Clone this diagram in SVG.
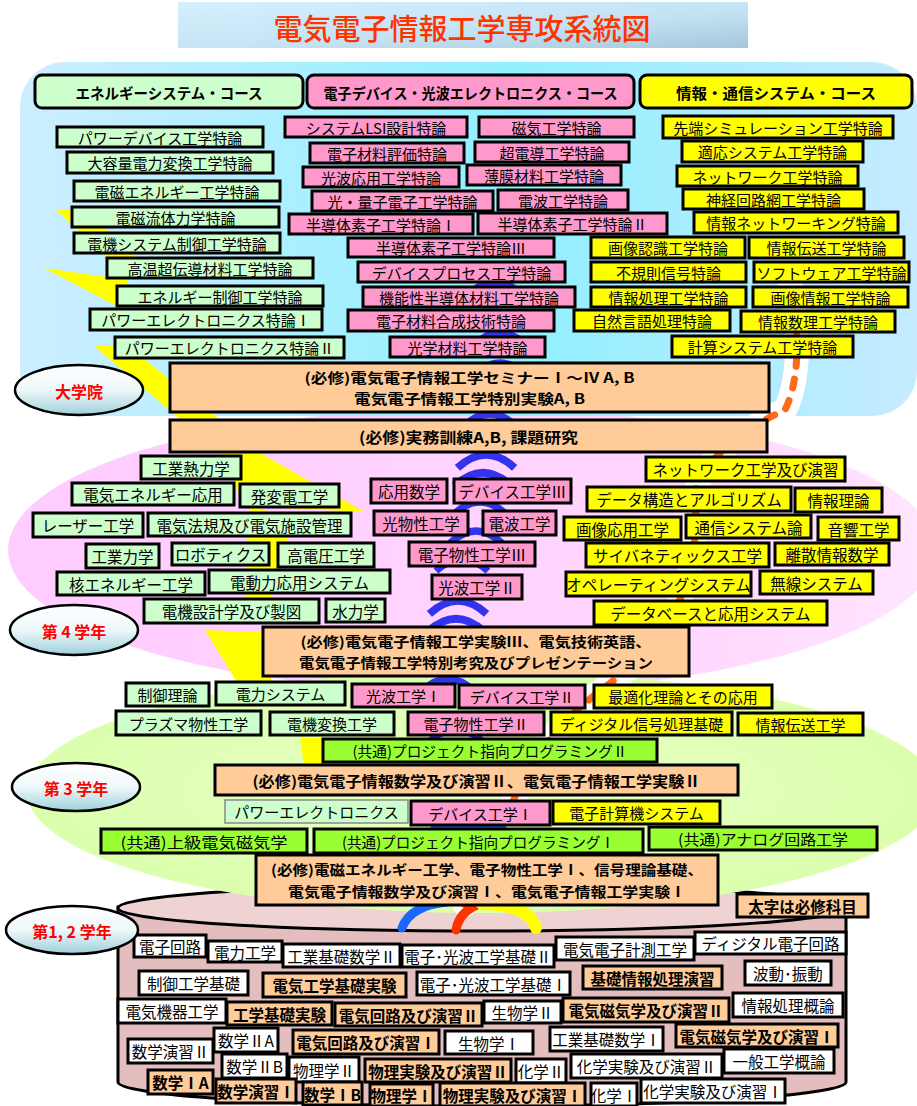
<svg xmlns="http://www.w3.org/2000/svg" width="917" height="1106" viewBox="0 0 917 1106">
<defs>
  <linearGradient id="titleBg" x1="0" y1="0" x2="1" y2="1">
    <stop offset="0" stop-color="#d6f0fd"/><stop offset="0.6" stop-color="#c2e2f4"/><stop offset="1" stop-color="#a6c6da"/>
  </linearGradient>
  <linearGradient id="gradBg" x1="0" y1="0" x2="1" y2="0">
    <stop offset="0" stop-color="#cdeeff"/><stop offset="0.55" stop-color="#90f0ff"/><stop offset="1" stop-color="#c6ebff"/>
  </linearGradient>
  <linearGradient id="y4Bg" x1="0" y1="0" x2="1" y2="0">
    <stop offset="0" stop-color="#ffccff"/><stop offset="0.7" stop-color="#ffd6ff"/><stop offset="1" stop-color="#ffe6ff"/>
  </linearGradient>
  <radialGradient id="y3Bg" cx="0.5" cy="0.5" r="0.6">
    <stop offset="0" stop-color="#eaffc8"/><stop offset="1" stop-color="#d8ffa8"/>
  </radialGradient>
  <linearGradient id="badge" x1="0" y1="0" x2="0" y2="1">
    <stop offset="0" stop-color="#ffffff"/><stop offset="0.5" stop-color="#eef8fa"/><stop offset="1" stop-color="#9ed0da"/>
  </linearGradient>
  <path id="wave" d="M-26,9 Q0,-15 26,9"/>
</defs>
<style>
  .bx{stroke:#000;stroke-width:3}
  .g{fill:#ccffcc}.p{fill:#ff99cc}.y{fill:#ffff00}.o{fill:#ffcc99}.l{fill:#99ff33}.w{fill:#ffffff}
  text{font-family:"Noto Sans CJK JP","Noto Sans",sans-serif;text-anchor:middle;dominant-baseline:central;fill:#000}
  .s15{font-size:15px}.s16{font-size:15.5px}
  .b{font-weight:700}
  .req{font-weight:700;font-size:14px}
  .badge ellipse{fill:url(#badge);stroke:#000;stroke-width:2.5}
  .badge text{fill:#ff0000;font-weight:700;font-size:16px}
  .wv{fill:none;stroke:#3333ee;stroke-width:7}
</style>

<!-- page title -->
<g id="title">
  <rect x="178" y="2" width="570" height="46" fill="url(#titleBg)"/>
  <text x="462" y="27" style="font-size:29px;font-weight:500;fill:#ff3300">電気電子情報工学専攻系統図</text>
</g>

<!-- stage backgrounds -->
<g id="backgrounds">
  <ellipse cx="472" cy="550" rx="464" ry="142" fill="url(#y4Bg)"/>
  <rect x="20" y="62" width="897" height="354" rx="45" fill="url(#gradBg)"/>
  <g id="cylinder">
    <path d="M118,907 L118,1082 A364,24 0 0 0 846,1082 L846,907 Z" fill="#e4bebe" stroke="#000" stroke-width="3"/>
    <ellipse cx="482" cy="908" rx="364" ry="23" fill="#efd3d3" stroke="#000" stroke-width="3"/>
  </g>
  <ellipse cx="482" cy="792" rx="455" ry="121" fill="url(#y3Bg)"/>
</g>

<!-- decorative ribbons rising from the cylinder -->
<g id="decor">
  <g id="bolt" fill="#ffff00">
    <polygon points="56,210 84,210 138,258 112,262"/>
    <polygon points="44,268 128,280 128,312"/>
    <polygon points="94,346 128,346 265,456 365,512 242,506 228,460"/>
    <polygon points="250,505 292,520 270,600 245,600"/>
    <polygon points="205,630 262,632 272,682 238,684"/>
    <polygon points="300,738 332,738 326,766 304,766"/>
  </g>
  <g id="waves">
    <use href="#wave" class="wv" transform="translate(495,285)"/>
    <use href="#wave" class="wv" transform="translate(500,336)"/>
    <use href="#wave" class="wv" transform="translate(500,366)"/>
    <use href="#wave" class="wv" transform="translate(490,417)"/>
    <use href="#wave" class="wv" transform="translate(486,458) scale(1.1)"/>
    <use href="#wave" class="wv" transform="translate(483,476) scale(1.1)"/>
    <use href="#wave" class="wv" transform="translate(480,505)"/>
    <use href="#wave" class="wv" transform="translate(476,534)"/>
    <use href="#wave" class="wv" transform="translate(462,562)"/>
    <use href="#wave" class="wv" transform="translate(458,604) scale(1.1)"/>
    <use href="#wave" class="wv" transform="translate(456,622) scale(1.1)"/>
    <use href="#wave" class="wv" transform="translate(448,682)"/>
    <use href="#wave" class="wv" transform="translate(456,732)"/>
  </g>
  <g id="binary-stream" fill="none" stroke-linecap="round">
    <path d="M465,905 C490,850 520,780 545,745 C575,705 610,685 640,660 C680,620 700,560 695,500 C692,470 740,430 785,410 C800,380 800,330 790,285" stroke="#ffffff" stroke-width="24"/>
    <path d="M465,905 C490,850 520,780 545,745 C575,705 610,685 640,660 C680,620 700,560 695,500 C692,470 740,430 785,410 C800,380 800,330 790,285" stroke="#ff6a1a" stroke-width="7" stroke-dasharray="9 13"/>
  </g>
  <g id="cylinder-ribbons" fill="none" stroke-linecap="round">
    <path d="M402,928 Q410,906 446,902" stroke="#1a66ff" stroke-width="9"/>
    <path d="M456,930 Q460,906 492,901" stroke="#ff3300" stroke-width="9"/>
    <path d="M482,904 Q530,905 536,928" stroke="#ffff00" stroke-width="12"/>
    <path d="M432,827 L505,827" stroke="#1a66ff" stroke-width="3"/>
    <path d="M432,825 L470,825" stroke="#ff3300" stroke-width="2"/>
  </g>
</g>

<!-- course headers -->
<g id="hdr-energy"><rect class="bx g" x="35" y="75" width="268" height="33" rx="7"/><text class="b" x="169" y="92" style="font-size:15px" textLength="187" lengthAdjust="spacingAndGlyphs">エネルギーシステム・コース</text></g>
<g id="hdr-device"><rect class="bx p" x="307" y="75" width="327" height="33" rx="7"/><text class="b" x="470.5" y="92" style="font-size:15px" textLength="294" lengthAdjust="spacingAndGlyphs">電子デバイス・光波エレクトロニクス・コース</text></g>
<g id="hdr-info"><rect class="bx y" x="640" y="75" width="272" height="33" rx="7"/><text class="b" x="776" y="92" style="font-size:15px" textLength="200" lengthAdjust="spacingAndGlyphs">情報・通信システム・コース</text></g>

<!-- graduate: energy systems -->
<g id="gE1"><rect class="bx g" x="57" y="127" width="206" height="20"/><text class="s15" x="160" y="137">パワーデバイス工学特論</text></g>
<g id="gE2"><rect class="bx g" x="67" y="152" width="206" height="21"/><text class="s15" x="170" y="162.5">大容量電力変換工学特論</text></g>
<g id="gE3"><rect class="bx g" x="74" y="181" width="206" height="20"/><text class="s15" x="177" y="191">電磁エネルギー工学特論</text></g>
<g id="gE4"><rect class="bx g" x="72" y="207" width="207" height="20"/><text class="s15" x="175.5" y="217">電磁流体力学特論</text></g>
<g id="gE5"><rect class="bx g" x="74" y="233" width="206" height="20"/><text class="s15" x="177" y="243">電機システム制御工学特論</text></g>
<g id="gE6"><rect class="bx g" x="107" y="258" width="206" height="20"/><text class="s15" x="210" y="268">高温超伝導材料工学特論</text></g>
<g id="gE7"><rect class="bx g" x="117" y="286" width="206" height="20"/><text class="s15" x="220" y="296">エネルギー制御工学特論</text></g>
<g id="gE8"><rect class="bx g" x="90" y="309" width="232" height="21"/><text class="s15" x="206" y="319.5">パワーエレクトロニクス特論Ⅰ</text></g>
<g id="gE9"><rect class="bx g" x="115" y="337" width="229" height="21"/><text class="s15" x="229.5" y="347.5">パワーエレクトロニクス特論Ⅱ</text></g>

<!-- graduate: devices / photonics -->
<g id="gD1"><rect class="bx p" x="285" y="117" width="182" height="20"/><text class="s15" x="376" y="127">システムLSI設計特論</text></g>
<g id="gD2"><rect class="bx p" x="479" y="117" width="155" height="20"/><text class="s15" x="556.5" y="127">磁気工学特論</text></g>
<g id="gD3"><rect class="bx p" x="310" y="143" width="154" height="20"/><text class="s15" x="387" y="153">電子材料評価特論</text></g>
<g id="gD4"><rect class="bx p" x="475" y="142" width="154" height="20"/><text class="s15" x="552" y="152">超電導工学特論</text></g>
<g id="gD5"><rect class="bx p" x="303" y="167" width="156" height="20"/><text class="s15" x="381" y="177">光波応用工学特論</text></g>
<g id="gD6"><rect class="bx p" x="467" y="165" width="154" height="20"/><text class="s15" x="544" y="175">薄膜材料工学特論</text></g>
<g id="gD7"><rect class="bx p" x="312" y="191" width="181" height="20"/><text class="s15" x="402.5" y="201">光・量子電子工学特論</text></g>
<g id="gD8"><rect class="bx p" x="498" y="190" width="130" height="20"/><text class="s15" x="563" y="200">電波工学特論</text></g>
<g id="gD9"><rect class="bx p" x="289" y="214" width="184" height="20"/><text class="s15" x="381" y="224">半導体素子工学特論Ⅰ</text></g>
<g id="gD10"><rect class="bx p" x="478" y="213" width="189" height="21"/><text class="s15" x="572.5" y="223.5">半導体素子工学特論Ⅱ</text></g>
<g id="gD11"><rect class="bx p" x="348" y="238" width="206" height="19"/><text class="s15" x="451" y="247.5">半導体素子工学特論Ⅲ</text></g>
<g id="gD12"><rect class="bx p" x="358" y="262" width="207" height="20"/><text class="s15" x="461.5" y="272">デバイスプロセス工学特論</text></g>
<g id="gD13"><rect class="bx p" x="363" y="287" width="212" height="20"/><text class="s15" x="469" y="297">機能性半導体材料工学特論</text></g>
<g id="gD14"><rect class="bx p" x="348" y="310" width="206" height="21"/><text class="s15" x="451" y="320.5">電子材料合成技術特論</text></g>
<g id="gD15"><rect class="bx p" x="390" y="337" width="155" height="20"/><text class="s15" x="467.5" y="347">光学材料工学特論</text></g>

<!-- graduate: information / communication -->
<g id="gI1"><rect class="bx y" x="663" y="116" width="230" height="22"/><text class="s15" x="778" y="127">先端シミュレーション工学特論</text></g>
<g id="gI2"><rect class="bx y" x="682" y="141" width="181" height="21"/><text class="s15" x="772.5" y="151.5">適応システム工学特論</text></g>
<g id="gI3"><rect class="bx y" x="677" y="166" width="181" height="20"/><text class="s15" x="767.5" y="176">ネットワーク工学特論</text></g>
<g id="gI4"><rect class="bx y" x="683" y="189" width="181" height="20"/><text class="s15" x="773.5" y="199">神経回路網工学特論</text></g>
<g id="gI5"><rect class="bx y" x="694" y="212" width="204" height="21"/><text class="s15" x="796" y="222.5">情報ネットワーキング特論</text></g>
<g id="gI6"><rect class="bx y" x="591" y="237" width="154" height="21"/><text class="s15" x="668" y="247.5">画像認識工学特論</text></g>
<g id="gI7"><rect class="bx y" x="749" y="237" width="155" height="21"/><text class="s15" x="826.5" y="247.5">情報伝送工学特論</text></g>
<g id="gI8"><rect class="bx y" x="591" y="262" width="155" height="20"/><text class="s15" x="668.5" y="272">不規則信号特論</text></g>
<g id="gI9"><rect class="bx y" x="754" y="262" width="155" height="20"/><text class="s15" x="831.5" y="272">ソフトウェア工学特論</text></g>
<g id="gI10"><rect class="bx y" x="591" y="287" width="155" height="20"/><text class="s15" x="668.5" y="297">情報処理工学特論</text></g>
<g id="gI11"><rect class="bx y" x="753" y="287" width="155" height="20"/><text class="s15" x="830.5" y="297">画像情報工学特論</text></g>
<g id="gI12"><rect class="bx y" x="574" y="310" width="156" height="21"/><text class="s15" x="652" y="320.5">自然言語処理特論</text></g>
<g id="gI13"><rect class="bx y" x="741" y="311" width="154" height="21"/><text class="s15" x="818" y="321.5">情報数理工学特論</text></g>
<g id="gI14"><rect class="bx y" x="672" y="336" width="181" height="21"/><text class="s15" x="762.5" y="346.5">計算システム工学特論</text></g>

<!-- graduate: required -->
<g id="req-grad1"><rect class="bx o" x="170" y="363" width="599" height="49"/>
  <text class="req" x="469.5" y="377" textLength="330" lengthAdjust="spacingAndGlyphs">(必修)電気電子情報工学セミナーⅠ～Ⅳ A, B</text>
  <text class="req" x="469.5" y="398" textLength="231" lengthAdjust="spacingAndGlyphs">電気電子情報工学特別実験A, B</text></g>
<g id="req-grad2"><rect class="bx o" x="170" y="420" width="597" height="32"/>
  <text class="b" x="468.5" y="436.5" style="font-size:15px" textLength="219" lengthAdjust="spacingAndGlyphs">(必修)実務訓練A,B, 課題研究</text></g>

<!-- 4th year -->
<g id="y4E1"><rect class="bx g" x="141" y="456" width="100" height="23"/><text class="s16" x="191" y="467.5">工業熱力学</text></g>
<g id="y4E2"><rect class="bx g" x="72" y="483" width="162" height="22"/><text class="s16" x="153" y="494">電気エネルギー応用</text></g>
<g id="y4E3"><rect class="bx g" x="240" y="484" width="99" height="23"/><text class="s16" x="289.5" y="495.5">発変電工学</text></g>
<g id="y4E4"><rect class="bx g" x="33" y="513" width="110" height="24"/><text class="s16" x="88" y="525">レーザー工学</text></g>
<g id="y4E5"><rect class="bx g" x="148" y="513" width="203" height="23"/><text class="s16" x="249.5" y="524.5">電気法規及び電気施設管理</text></g>
<g id="y4E6"><rect class="bx g" x="86" y="544" width="73" height="24"/><text class="s16" x="122.5" y="556">工業力学</text></g>
<g id="y4E7"><rect class="bx g" x="172" y="543" width="97" height="22"/><text class="s16" x="220.5" y="554">ロボティクス</text></g>
<g id="y4E8"><rect class="bx g" x="278" y="543" width="96" height="24"/><text class="s16" x="326" y="555">高電圧工学</text></g>
<g id="y4E9"><rect class="bx g" x="57" y="572" width="148" height="23"/><text class="s16" x="131" y="583.5">核エネルギー工学</text></g>
<g id="y4E10"><rect class="bx g" x="209" y="570" width="181" height="23"/><text class="s16" x="299.5" y="581.5">電動力応用システム</text></g>
<g id="y4E11"><rect class="bx g" x="144" y="599" width="175" height="24"/><text class="s16" x="231.5" y="611">電機設計学及び製図</text></g>
<g id="y4E12"><rect class="bx g" x="326" y="599" width="59" height="23"/><text class="s16" x="355.5" y="610.5">水力学</text></g>

<g id="y4D1"><rect class="bx p" x="371" y="479" width="76" height="24"/><text class="s16" x="409" y="491">応用数学</text></g>
<g id="y4D2"><rect class="bx p" x="454" y="479" width="117" height="24"/><text class="s16" x="512.5" y="491">デバイス工学Ⅲ</text></g>
<g id="y4D3"><rect class="bx p" x="374" y="511" width="94" height="24"/><text class="s16" x="421" y="523">光物性工学</text></g>
<g id="y4D4"><rect class="bx p" x="483" y="511" width="73" height="24"/><text class="s16" x="519.5" y="523">電波工学</text></g>
<g id="y4D5"><rect class="bx p" x="409" y="542" width="126" height="24"/><text class="s16" x="472" y="554">電子物性工学Ⅲ</text></g>
<g id="y4D6"><rect class="bx p" x="432" y="575" width="90" height="24"/><text class="s16" x="477" y="587">光波工学Ⅱ</text></g>

<g id="y4I1"><rect class="bx y" x="646" y="457" width="199" height="24"/><text class="s16" x="745.5" y="469">ネットワーク工学及び演習</text></g>
<g id="y4I2"><rect class="bx y" x="587" y="487" width="204" height="24"/><text class="s16" x="689" y="499">データ構造とアルゴリズム</text></g>
<g id="y4I3"><rect class="bx y" x="795" y="488" width="87" height="24"/><text class="s16" x="838.5" y="500">情報理論</text></g>
<g id="y4I4"><rect class="bx y" x="564" y="517" width="117" height="23"/><text class="s16" x="622.5" y="528.5">画像応用工学</text></g>
<g id="y4I5"><rect class="bx y" x="686" y="515" width="125" height="23"/><text class="s16" x="748.5" y="526.5">通信システム論</text></g>
<g id="y4I6"><rect class="bx y" x="818" y="517" width="81" height="23"/><text class="s16" x="858.5" y="528.5">音響工学</text></g>
<g id="y4I7"><rect class="bx y" x="586" y="543" width="183" height="24"/><text class="s16" x="677.5" y="555">サイバネティックス工学</text></g>
<g id="y4I8"><rect class="bx y" x="775" y="543" width="114" height="22"/><text class="s16" x="832" y="554">離散情報数学</text></g>
<g id="y4I9"><rect class="bx y" x="566" y="572" width="185" height="24"/><text class="s16" x="658.5" y="584">オペレーティングシステム</text></g>
<g id="y4I10"><rect class="bx y" x="760" y="571" width="113" height="23"/><text class="s16" x="816.5" y="582.5">無線システム</text></g>
<g id="y4I11"><rect class="bx y" x="594" y="601" width="233" height="24"/><text class="s16" x="710.5" y="613">データベースと応用システム</text></g>

<g id="req-y4"><rect class="bx o" x="263" y="627" width="426" height="49"/>
  <text class="req" x="476" y="641" textLength="351" lengthAdjust="spacingAndGlyphs">(必修)電気電子情報工学実験Ⅲ、電気技術英語、</text>
  <text class="req" x="476" y="662" textLength="354" lengthAdjust="spacingAndGlyphs">電気電子情報工学特別考究及びプレゼンテーション</text></g>

<!-- 3rd year -->
<g id="y3a1"><rect class="bx g" x="126" y="683" width="83" height="23"/><text class="s15" x="167.5" y="694.5">制御理論</text></g>
<g id="y3a2"><rect class="bx g" x="216" y="682" width="129" height="23"/><text class="s15" x="280.5" y="693.5">電力システム</text></g>
<g id="y3a3"><rect class="bx p" x="352" y="684" width="103" height="23"/><text class="s15" x="403.5" y="695.5">光波工学Ⅰ</text></g>
<g id="y3a4"><rect class="bx p" x="459" y="685" width="126" height="23"/><text class="s15" x="522" y="696.5">デバイス工学Ⅱ</text></g>
<g id="y3a5"><rect class="bx y" x="594" y="685" width="178" height="23"/><text class="s15" x="683" y="696.5">最適化理論とその応用</text></g>
<g id="y3b1"><rect class="bx g" x="116" y="711" width="145" height="24"/><text class="s15" x="188.5" y="723">プラズマ物性工学</text></g>
<g id="y3b2"><rect class="bx g" x="270" y="712" width="124" height="23"/><text class="s15" x="332" y="723.5">電機変換工学</text></g>
<g id="y3b3"><rect class="bx p" x="408" y="712" width="136" height="23"/><text class="s15" x="476" y="723.5">電子物性工学Ⅱ</text></g>
<g id="y3b4"><rect class="bx y" x="551" y="712" width="181" height="23"/><text class="s15" x="641.5" y="723.5">ディジタル信号処理基礎</text></g>
<g id="y3b5"><rect class="bx y" x="738" y="713" width="125" height="22"/><text class="s15" x="800.5" y="724">情報伝送工学</text></g>
<g id="y3c1"><rect class="bx l" x="323" y="739" width="334" height="23"/><text x="490" y="750.5" style="font-size:15px" textLength="275" lengthAdjust="spacingAndGlyphs">(共通)プロジェクト指向プログラミングⅡ</text></g>
<g id="req-y3"><rect class="bx o" x="215" y="765" width="523" height="30"/>
  <text class="b" x="476.5" y="780" style="font-size:15px" textLength="448" lengthAdjust="spacingAndGlyphs">(必修)電気電子情報数学及び演習Ⅱ、電気電子情報工学実験Ⅱ</text></g>
<g id="y3d1"><rect class="g" x="225" y="800" width="183" height="23" stroke="#8a8a8a" stroke-width="1.5"/><text class="s15" x="316.5" y="811.5">パワーエレクトロニクス</text></g>
<g id="y3d2"><rect class="bx p" x="411" y="801" width="139" height="24"/><text class="s15" x="480.5" y="813">デバイス工学Ⅰ</text></g>
<g id="y3d3"><rect class="bx y" x="553" y="801" width="167" height="23"/><text class="s15" x="636.5" y="812.5">電子計算機システム</text></g>
<g id="y3e1"><rect class="bx l" x="101" y="829" width="206" height="24"/><text x="204" y="841" style="font-size:15px" textLength="167" lengthAdjust="spacingAndGlyphs">(共通)上級電気磁気学</text></g>
<g id="y3e2"><rect class="bx l" x="314" y="829" width="329" height="24"/><text x="478.5" y="841" style="font-size:15px" textLength="273" lengthAdjust="spacingAndGlyphs">(共通)プロジェクト指向プログラミングⅠ</text></g>
<g id="y3e3"><rect class="bx l" x="649" y="827" width="228" height="23"/><text x="763" y="838.5" style="font-size:15px" textLength="170" lengthAdjust="spacingAndGlyphs">(共通)アナログ回路工学</text></g>
<g id="req-y12"><rect class="bx o" x="256" y="855" width="462" height="50"/>
  <text class="req" x="487" y="869" textLength="432" lengthAdjust="spacingAndGlyphs">(必修)電磁エネルギー工学、電子物性工学Ⅰ、信号理論基礎、</text>
  <text class="req" x="487" y="891" textLength="398" lengthAdjust="spacingAndGlyphs">電気電子情報数学及び演習Ⅰ、電気電子情報工学実験Ⅰ</text></g>

<!-- 1st and 2nd year -->
<g id="legend"><rect class="bx o" x="737" y="894" width="131" height="23"/><text class="s16 b" x="802.5" y="905.5">太字は必修科目</text></g>
<g id="y1a1"><rect class="bx w" x="134" y="935" width="72" height="22"/><text class="s16" x="170" y="946">電子回路</text></g>
<g id="y1a2"><rect class="bx w" x="208" y="941" width="74" height="21"/><text class="s16" x="245" y="951.5">電力工学</text></g>
<g id="y1a3"><rect class="bx w" x="283" y="944" width="117" height="23"/><text class="s16" x="341.5" y="955.5">工業基礎数学Ⅱ</text></g>
<g id="y1a4"><rect class="bx w" x="402" y="945" width="152" height="22"/><text class="s16" x="478" y="956">電子･光波工学基礎Ⅱ</text></g>
<g id="y1a5"><rect class="bx w" x="556" y="937" width="138" height="23"/><text class="s16" x="625" y="948.5">電気電子計測工学</text></g>
<g id="y1a6"><rect class="bx w" x="695" y="932" width="151" height="22"/><text class="s16" x="770.5" y="943">ディジタル電子回路</text></g>
<g id="y1b1"><rect class="bx w" x="139" y="971" width="109" height="24"/><text class="s16" x="193.5" y="983">制御工学基礎</text></g>
<g id="y1b2"><rect class="bx o" x="263" y="973" width="143" height="24"/><text class="s16 b" x="334.5" y="985">電気工学基礎実験</text></g>
<g id="y1b3"><rect class="bx w" x="417" y="972" width="153" height="23"/><text class="s16" x="493.5" y="983.5">電子･光波工学基礎Ⅰ</text></g>
<g id="y1b4"><rect class="bx o" x="583" y="966" width="139" height="23"/><text class="s16 b" x="652.5" y="977.5">基礎情報処理演習</text></g>
<g id="y1b5"><rect class="bx w" x="745" y="961" width="86" height="24"/><text class="s16" x="788" y="973">波動･振動</text></g>
<g id="y1c1"><rect class="bx w" x="118" y="999" width="108" height="24"/><text class="s16" x="172" y="1011">電気機器工学</text></g>
<g id="y1c2"><rect class="bx o" x="227" y="1002" width="105" height="23"/><text class="s16 b" x="279.5" y="1013.5">工学基礎実験</text></g>
<g id="y1c3"><rect class="bx o" x="335" y="1003" width="147" height="23"/><text class="s16 b" x="408.5" y="1014.5">電気回路及び演習Ⅱ</text></g>
<g id="y1c4"><rect class="bx w" x="484" y="1001" width="77" height="22"/><text class="s16" x="522.5" y="1012">生物学Ⅱ</text></g>
<g id="y1c5"><rect class="bx o" x="563" y="998" width="166" height="24"/><text class="s16 b" x="646" y="1010">電気磁気学及び演習Ⅱ</text></g>
<g id="y1c6"><rect class="bx w" x="733" y="993" width="110" height="24"/><text class="s16" x="788" y="1005">情報処理概論</text></g>
<g id="y1d1"><rect class="bx w" x="214" y="1028" width="64" height="24"/><text class="s16" x="246" y="1040">数学ⅡA</text></g>
<g id="y1d2"><rect class="bx w" x="128" y="1039" width="85" height="24"/><text class="s16" x="170.5" y="1051">数学演習Ⅱ</text></g>
<g id="y1d3"><rect class="bx o" x="293" y="1030" width="146" height="24"/><text class="s16 b" x="366" y="1042">電気回路及び演習Ⅰ</text></g>
<g id="y1d4"><rect class="bx w" x="445" y="1031" width="88" height="23"/><text class="s16" x="489" y="1042.5">生物学Ⅰ</text></g>
<g id="y1d5"><rect class="bx w" x="550" y="1027" width="113" height="24"/><text class="s16" x="606.5" y="1039">工業基礎数学Ⅰ</text></g>
<g id="y1d6"><rect class="bx o" x="676" y="1024" width="162" height="23"/><text class="s16 b" x="757" y="1035.5">電気磁気学及び演習Ⅰ</text></g>
<g id="y1e1"><rect class="bx w" x="222" y="1054" width="65" height="24"/><text class="s16" x="254.5" y="1066">数学ⅡB</text></g>
<g id="y1e2"><rect class="bx w" x="289" y="1057" width="70" height="25"/><text class="s16" x="324" y="1069.5">物理学Ⅱ</text></g>
<g id="y1e3"><rect class="bx o" x="365" y="1059" width="146" height="23"/><text class="s16 b" x="438" y="1070.5">物理実験及び演習Ⅱ</text></g>
<g id="y1e4"><rect class="bx w" x="516" y="1059" width="50" height="24"/><text class="s16" x="541" y="1071">化学Ⅱ</text></g>
<g id="y1e5"><rect class="bx w" x="571" y="1054" width="151" height="24"/><text class="s16" x="646.5" y="1066">化学実験及び演習Ⅱ</text></g>
<g id="y1e6"><rect class="bx w" x="724" y="1049" width="110" height="24"/><text class="s16" x="779" y="1061">一般工学概論</text></g>
<g id="y1f1"><rect class="bx o" x="148" y="1070" width="65" height="24"/><text class="s16 b" x="180.5" y="1082">数学ⅠA</text></g>
<g id="y1f2"><rect class="bx o" x="216" y="1079" width="80" height="24"/><text class="s16 b" x="256" y="1091">数学演習Ⅰ</text></g>
<g id="y1f3"><rect class="bx o" x="303" y="1082" width="59" height="23"/><text class="s16 b" x="332.5" y="1093.5">数学ⅠB</text></g>
<g id="y1f4"><rect class="bx o" x="370" y="1084" width="63" height="22"/><text class="s16 b" x="401.5" y="1095">物理学Ⅰ</text></g>
<g id="y1f5"><rect class="bx o" x="440" y="1083" width="145" height="23"/><text class="s16 b" x="512.5" y="1094.5">物理実験及び演習Ⅰ</text></g>
<g id="y1f6"><rect class="bx w" x="591" y="1083" width="46" height="23"/><text class="s16" x="614" y="1094.5">化学Ⅰ</text></g>
<g id="y1f7"><rect class="bx w" x="641" y="1079" width="144" height="24"/><text class="s16" x="713" y="1091">化学実験及び演習Ⅰ</text></g>

<!-- stage badges -->
<g id="badge-grad" class="badge"><ellipse cx="79" cy="390" rx="64" ry="25"/><text x="79" y="391">大学院</text></g>
<g id="badge-y4" class="badge"><ellipse cx="74" cy="630" rx="64" ry="25"/><text x="74" y="631">第 4 学年</text></g>
<g id="badge-y3" class="badge"><ellipse cx="76" cy="787" rx="64" ry="24"/><text x="76" y="788">第 3 学年</text></g>
<g id="badge-y12" class="badge"><ellipse cx="72" cy="930" rx="66" ry="24"/><text x="72" y="931">第1, 2 学年</text></g>
</svg>
